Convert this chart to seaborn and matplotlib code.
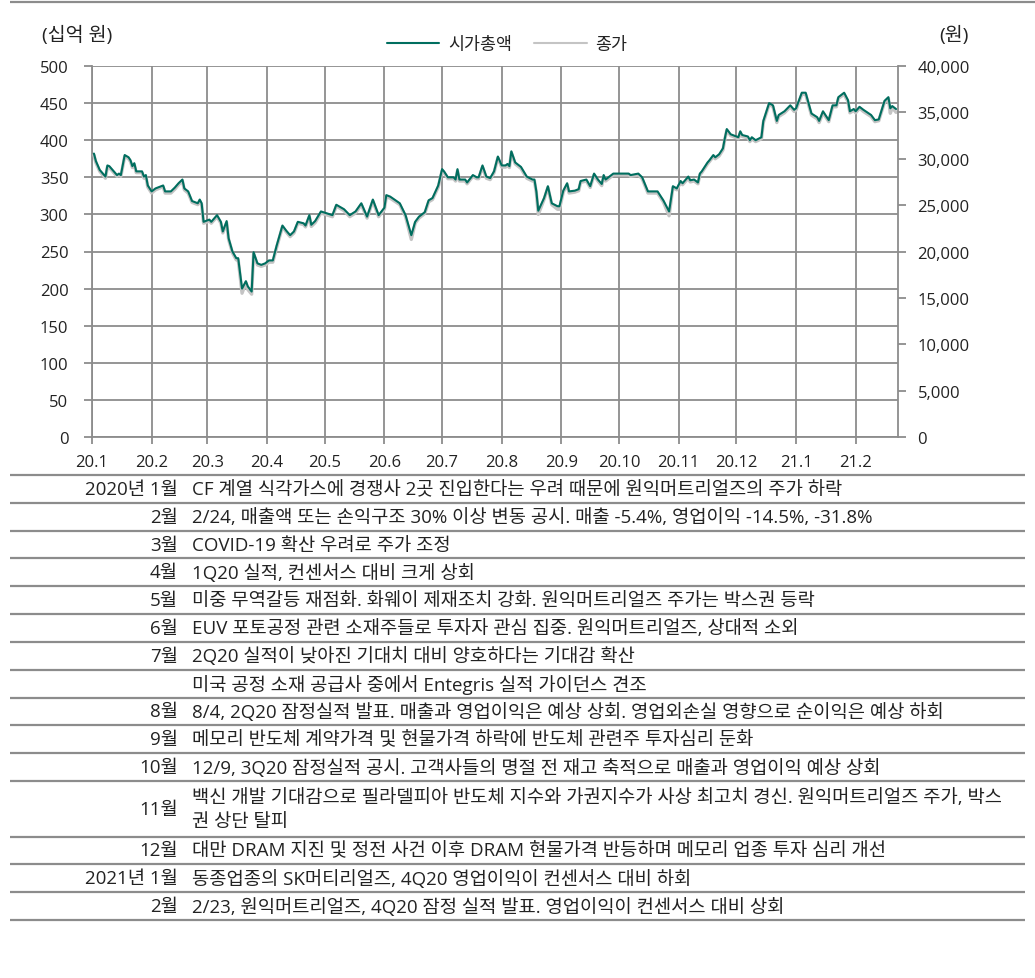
import matplotlib
matplotlib.use('Agg')  # no display
import matplotlib.pyplot as plt
import matplotlib.dates as mdates
from matplotlib.ticker import FuncFormatter, MultipleLocator
from matplotlib.lines import Line2D
import pandas as pd
import seaborn as sns

# --- data ---
dates = [
    # 2020.1
    '2020-01-02', '2020-01-03', '2020-01-05', '2020-01-08', '2020-01-09', '2020-01-10', '2020-01-14',
    '2020-01-15', '2020-01-16', '2020-01-18', '2020-01-20', '2020-01-21', '2020-01-22', '2020-01-23',
    '2020-01-24', '2020-01-27', '2020-01-28', '2020-01-29', '2020-01-30',
    # 2020.2
    '2020-02-01', '2020-02-03', '2020-02-06', '2020-02-07', '2020-02-08', '2020-02-11', '2020-02-13',
    '2020-02-15', '2020-02-17', '2020-02-18', '2020-02-20', '2020-02-22', '2020-02-25', '2020-02-26',
    '2020-02-27', '2020-02-28',
    # 2020.3
    '2020-03-01', '2020-03-02', '2020-03-03', '2020-03-06', '2020-03-08', '2020-03-09', '2020-03-11',
    '2020-03-12', '2020-03-14', '2020-03-16', '2020-03-17', '2020-03-19', '2020-03-21', '2020-03-22',
    '2020-03-24', '2020-03-25', '2020-03-27', '2020-03-29', '2020-03-31',
    # 2020.4
    '2020-04-02', '2020-04-04', '2020-04-06', '2020-04-09', '2020-04-11', '2020-04-13', '2020-04-15',
    '2020-04-17', '2020-04-20', '2020-04-21', '2020-04-23', '2020-04-24', '2020-04-26', '2020-04-29',
    # 2020.5
    '2020-05-05', '2020-05-07', '2020-05-11', '2020-05-14', '2020-05-17', '2020-05-20', '2020-05-23',
    '2020-05-26', '2020-05-29',
    # 2020.6
    '2020-06-01', '2020-06-02', '2020-06-04', '2020-06-09', '2020-06-12', '2020-06-15', '2020-06-17',
    '2020-06-19', '2020-06-22', '2020-06-24', '2020-06-26', '2020-06-29',
    # 2020.7
    '2020-07-01', '2020-07-02', '2020-07-04', '2020-07-07', '2020-07-08', '2020-07-09', '2020-07-10',
    '2020-07-13', '2020-07-14', '2020-07-17', '2020-07-19', '2020-07-20', '2020-07-22', '2020-07-24',
    '2020-07-26', '2020-07-28', '2020-07-30',
    # 2020.8
    '2020-08-01', '2020-08-03', '2020-08-04', '2020-08-05', '2020-08-06', '2020-08-08', '2020-08-11',
    '2020-08-14', '2020-08-17', '2020-08-18', '2020-08-19', '2020-08-20', '2020-08-23', '2020-08-25',
    '2020-08-27', '2020-08-30', '2020-08-31',
    # 2020.9
    '2020-09-02', '2020-09-04', '2020-09-05', '2020-09-08', '2020-09-10', '2020-09-11', '2020-09-14',
    '2020-09-16', '2020-09-18', '2020-09-20', '2020-09-22', '2020-09-23', '2020-09-24', '2020-09-28',
    # 2020.10
    '2020-10-06', '2020-10-07', '2020-10-11', '2020-10-13', '2020-10-16', '2020-10-19', '2020-10-21',
    '2020-10-24', '2020-10-27', '2020-10-29', '2020-10-31',
    # 2020.11
    '2020-11-02', '2020-11-03', '2020-11-06', '2020-11-07', '2020-11-09', '2020-11-11', '2020-11-12',
    '2020-11-13', '2020-11-16', '2020-11-17', '2020-11-19', '2020-11-20', '2020-11-22', '2020-11-24',
    '2020-11-25', '2020-11-26', '2020-11-28',
    # 2020.12
    '2020-12-01', '2020-12-02', '2020-12-03', '2020-12-04', '2020-12-07', '2020-12-08', '2020-12-09',
    '2020-12-11', '2020-12-14', '2020-12-15', '2020-12-18', '2020-12-20', '2020-12-22', '2020-12-23',
    '2020-12-26', '2020-12-29', '2020-12-31',
    # 2021.1
    '2021-01-01', '2021-01-04', '2021-01-06', '2021-01-09', '2021-01-12', '2021-01-13', '2021-01-15',
    '2021-01-18', '2021-01-20', '2021-01-22', '2021-01-23', '2021-01-26', '2021-01-28', '2021-01-29',
    '2021-01-31',
    # 2021.2
    '2021-02-01', '2021-02-03', '2021-02-05', '2021-02-09', '2021-02-11', '2021-02-13', '2021-02-16',
    '2021-02-18', '2021-02-19', '2021-02-20', '2021-02-22',
]

# 시가총액 (십억 원), left axis
market_cap = [
    382, 372, 360, 351, 366, 365, 353, 355, 353, 380, 377, 373, 365, 369, 358, 358, 351, 353, 339,
    331, 335, 338, 339, 331, 331, 336, 342, 347, 335, 331, 318, 315, 320, 315, 290,
    292, 293, 290, 299, 290, 277, 291, 268, 250, 241, 241, 200, 210, 203, 196, 249, 234, 232, 234,
    238, 238, 258, 285, 278, 272, 277, 290, 288, 285, 299, 286, 291, 304,
    299, 313, 307, 299, 304, 315, 297, 320, 299,
    309, 326, 324, 315, 299, 272, 290, 297, 303, 319, 322, 339,
    361, 358, 350, 350, 347, 361, 347, 347, 343, 353, 350, 350, 366, 351, 349, 358, 378,
    366, 366, 368, 365, 385, 370, 364, 351, 347, 347, 331, 305, 322, 338, 315, 311, 311,
    332, 342, 331, 332, 334, 345, 347, 338, 355, 347, 341, 353, 347, 355,
    355, 353, 355, 350, 331, 331, 331, 319, 304, 338, 335,
    345, 342, 351, 346, 347, 343, 355, 358, 370, 373, 380, 377, 381, 389, 403, 415, 408,
    405, 404, 412, 407, 405, 400, 404, 400, 404, 426, 450, 447, 426, 434, 439, 447, 441,
    443, 464, 464, 436, 431, 426, 439, 427, 447, 447, 458, 464, 454, 439, 442,
    439, 445, 441, 434, 427, 428, 453, 458, 443, 446, 442,
]

# 종가 (원), right axis
close_price = [
    30400, 29600, 28650, 27900, 29100, 29050, 28100, 28250, 28100, 30250, 30000, 29700, 29050, 29350,
    28500, 28500, 27900, 28100, 26950,
    26300, 26650, 26900, 26950, 26300, 26300, 26700, 27200, 27600, 26650, 26300, 25300, 25050, 25450,
    25050, 23050,
    23200, 23300, 23050, 23750, 23050, 22000, 23100, 21300, 19850, 19100, 19100, 15500, 16650, 15900,
    15400, 19750, 18550, 18400, 18550,
    18850, 18850, 20450, 22650, 22100, 21600, 22000, 23050, 22900, 22650, 23750, 22700, 23100, 24150,
    23750, 24900, 24400, 23750, 24150, 25050, 23600, 25450, 23750,
    24550, 25900, 25750, 25050, 23750, 21300, 23050, 23600, 24100, 25350, 25600, 26950,
    28700, 28500, 27850, 27850, 27600, 28700, 27600, 27600, 27300, 28100, 27850, 27850, 29100, 27900,
    27750, 28500, 30100,
    29100, 29100, 29300, 29050, 30650, 29450, 28950, 27900, 27600, 27600, 26300, 24000, 25600, 26900,
    25050, 24550, 24550,
    26400, 27200, 26300, 26400, 26550, 27450, 27600, 26900, 28250, 27600, 27100, 28100, 27600, 28250,
    28250, 28100, 28250, 27850, 26300, 26300, 26300, 25350, 23850, 26900, 26650,
    27450, 27200, 27900, 27500, 27600, 27300, 28250, 28500, 29450, 29700, 30250, 30000, 30300, 30950,
    32100, 33050, 32500,
    32250, 32150, 32800, 32400, 32250, 31850, 32150, 31850, 32150, 33900, 35850, 35600, 33900, 34550,
    34950, 35600, 35100,
    35250, 36950, 36950, 34700, 34300, 33900, 34950, 34000, 35600, 35600, 36500, 36950, 36150, 34950,
    35200,
    34950, 35450, 35100, 34550, 34000, 34100, 36100, 36500, 34900, 35500, 35000,
]

series_names = ['시가총액', '종가']
unit_left = '(십억 원)'
unit_right = '(원)'

# event table under the chart
event_months = ['2020년 1월', '2월', '3월', '4월', '5월', '6월', '7월', '', '8월', '9월',
                '10월', '11월', '12월', '2021년 1월', '2월']
event_texts = [
    'CF 계열 식각가스에 경쟁사 2곳 진입한다는 우려 때문에 원익머트리얼즈의 주가 하락',
    '2/24, 매출액 또는 손익구조 30% 이상 변동 공시. 매출 -5.4%, 영업이익 -14.5%, -31.8%',
    'COVID-19 확산 우려로 주가 조정',
    '1Q20 실적, 컨센서스 대비 크게 상회',
    '미중 무역갈등 재점화. 화웨이 제재조치 강화. 원익머트리얼즈 주가는 박스권 등락',
    'EUV 포토공정 관련 소재주들로 투자자 관심 집중. 원익머트리얼즈, 상대적 소외',
    '2Q20 실적이 낮아진 기대치 대비 양호하다는 기대감 확산',
    '미국 공정 소재 공급사 중에서 Entegris 실적 가이던스 견조',
    '8/4, 2Q20 잠정실적 발표. 매출과 영업이익은 예상 상회. 영업외손실 영향으로 순이익은 예상 하회',
    '메모리 반도체 계약가격 및 현물가격 하락에 반도체 관련주 투자심리 둔화',
    '12/9, 3Q20 잠정실적 공시. 고객사들의 명절 전 재고 축적으로 매출과 영업이익 예상 상회',
    '백신 개발 기대감으로 필라델피아 반도체 지수와 가권지수가 사상 최고치 경신. 원익머트리얼즈 주가, 박스\n권 상단 탈피',
    '대만 DRAM 지진 및 정전 사건 이후 DRAM 현물가격 반등하며 메모리 업종 투자 심리 개선',
    '동종업종의 SK머티리얼즈, 4Q20 영업이익이 컨센서스 대비 하회',
    '2/23, 원익머트리얼즈, 4Q20 잠정 실적 발표. 영업이익이 컨센서스 대비 상회',
]

assert len(dates) == len(market_cap) == len(close_price)

# --- style ---
sns.set_theme(style="white")
plt.rcParams['font.family'] = ['Open Sans', 'Noto Sans CJK KR', 'DejaVu Sans']
plt.rcParams['axes.unicode_minus'] = False

TEAL = '#006e5f'
LIGHT = '#c4c4c4'
GRID = '#8c8c8c'
TXT = '#222222'

W, H = 1035, 979
df = pd.DataFrame({'date': pd.to_datetime(dates), 'mcap': market_cap, 'close': close_price})

fig = plt.figure(figsize=(W / 100, H / 100), dpi=100)

# overlay in pixel units for rules and the event table
ax_t = fig.add_axes([0, 0, 1, 1])
ax_t.set_xlim(0, W)
ax_t.set_ylim(H, 0)
ax_t.axis('off')

# chart area
left, right, top, bottom = 92, 898, 67, 438
ax = fig.add_axes([left / W, 1 - bottom / H, (right - left) / W, (bottom - top) / H])
ax.patch.set_visible(False)
ax2 = ax.twinx()   # 종가, right scale
ax3 = ax.twinx()   # 시가총액, drawn on top

sns.lineplot(data=df, x='date', y='close', ax=ax2, color=LIGHT, linewidth=2.4)
sns.lineplot(data=df, x='date', y='mcap', ax=ax3, color=TEAL, linewidth=1.5)

ax.set_xlim(mdates.date2num(pd.Timestamp('2020-01-01')), mdates.date2num(pd.Timestamp('2021-02-23')))
ax.set_ylim(0, 500)
ax3.set_ylim(0, 500)
ax2.set_ylim(0, 40000)

ax.xaxis_date()
ax.xaxis.set_major_locator(mdates.MonthLocator())
ax.xaxis.set_major_formatter(FuncFormatter(
    lambda v, p: f"{mdates.num2date(v).year % 100}.{mdates.num2date(v).month}"))
ax.yaxis.set_major_locator(MultipleLocator(50))
ax2.yaxis.set_major_locator(MultipleLocator(5000))
ax2.yaxis.set_major_formatter(FuncFormatter(lambda v, p: f"{v:,.0f}"))

ax.grid(True, axis='both', color=GRID, linewidth=1.3)
ax.set_axisbelow(True)

for a in (ax, ax2, ax3):
    a.set_xlabel('')
    a.set_ylabel('')
    for s in a.spines.values():
        s.set_visible(False)
ax.spines['left'].set_visible(True)
ax.spines['bottom'].set_visible(True)
ax2.spines['right'].set_visible(True)
for s in (ax.spines['left'], ax.spines['bottom'], ax2.spines['right']):
    s.set_color(GRID)
    s.set_linewidth(1.3)

ax.tick_params(axis='y', left=True, direction='out', length=6, width=1.3, color=GRID,
               pad=11, labelsize=12, labelcolor=TXT)
ax.tick_params(axis='x', bottom=True, direction='out', length=5, width=1.3, color=GRID,
               pad=7, labelsize=12, labelcolor=TXT)
ax2.tick_params(axis='y', right=True, direction='out', length=6, width=1.3, color=GRID,
                pad=8, labelsize=12, labelcolor=TXT)
ax3.yaxis.set_visible(False)

# legend and unit labels
handles = [Line2D([], [], color=TEAL, lw=1.5), Line2D([], [], color=LIGHT, lw=1.5)]
fig.legend(handles=handles, labels=series_names, loc='center', bbox_to_anchor=(0.49, 1 - 46 / H),
           ncol=2, frameon=False, fontsize=12.5, handlelength=3.0, handletextpad=0.5,
           columnspacing=1.3, labelcolor=TXT)
fig.text(42 / W, 1 - 35 / H, unit_left, ha='left', va='center', fontsize=14, color=TXT)
fig.text(939 / W, 1 - 35 / H, unit_right, ha='left', va='center', fontsize=14, color=TXT)

# rules
ax_t.hlines(3, 10, W, color=GRID, lw=1.6)

# event table
table_top, table_bottom = 476, 921
row_units = [2 if '\n' in t else 1 for t in event_texts]
unit_h = (table_bottom - table_top) / sum(row_units)
y = table_top
ax_t.hlines(y, 10, 1025, color=GRID, lw=1.6)
for label, text, n in zip(event_months, event_texts, row_units):
    yc = y + n * unit_h / 2
    ax_t.text(178, yc, label, ha='right', va='center', fontsize=13.5, color=TXT)
    ax_t.text(192, yc, text, ha='left', va='center', fontsize=13.5, color=TXT, linespacing=1.45)
    y += n * unit_h
    ax_t.hlines(y, 10, 1025, color=GRID, lw=1.6)

fig.savefig('out.png', dpi=100)
